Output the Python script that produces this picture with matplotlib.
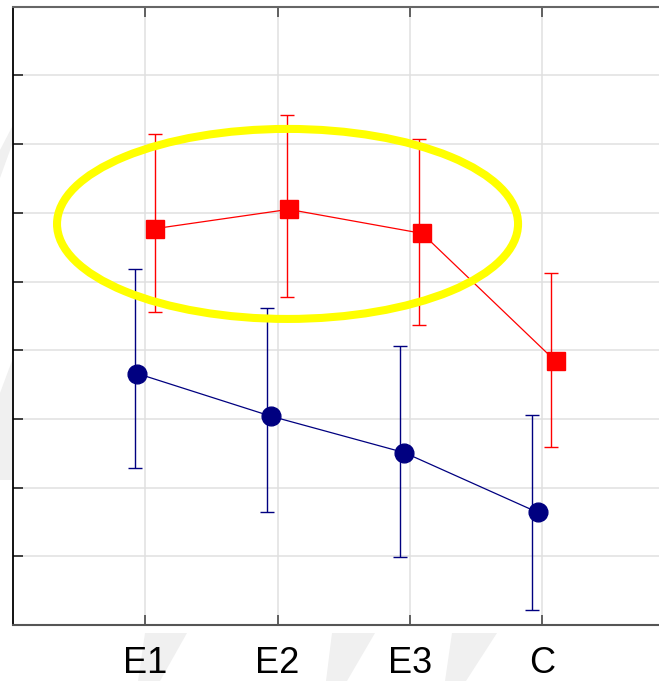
import matplotlib
matplotlib.use("Agg")
import matplotlib.pyplot as plt
from matplotlib.patches import Ellipse, Polygon

plt.rcParams['font.family'] = ['Liberation Sans', 'DejaVu Sans']

# categories
groups = ['E1', 'E2', 'E3', 'C']
xpos = [1, 2, 3, 4]

# blue series (circles): mean, lower and upper whisker
blue_mean = [3.66, 3.04, 2.51, 1.64]
blue_low = [2.28, 1.64, 0.99, 0.22]
blue_high = [5.18, 4.62, 4.06, 3.06]

# red series (squares)
red_mean = [5.77, 6.05, 5.70, 3.84]
red_low = [4.55, 4.78, 4.36, 2.59]
red_high = [7.14, 7.43, 7.08, 5.12]

W, H = 659, 681
fig = plt.figure(figsize=(W / 100, H / 100), dpi=100)

# light grey watermark shapes behind everything (pixel coords)
wm = [
    [(13, 125), (13, 142), (0, 178), (0, 150)],
    [(0, 393), (13, 358), (13, 480), (0, 480)],
    [(145, 633), (187, 633), (160, 681), (138, 681)],
    [(332, 633), (375, 633), (347, 681), (326, 681)],
    [(452, 633), (497, 633), (466, 681), (445, 681)],
]
for shp in wm:
    pts = [(px / W, 1 - py / H) for px, py in shp]
    fig.patches.append(Polygon(pts, closed=True, transform=fig.transFigure,
                               facecolor='#f0f0f0', edgecolor='none', zorder=-1))

ax = fig.add_axes([13.3 / W, 56 / H, 660.5 / W, 618.3 / H])
ax.set_zorder(1)
ax.set_facecolor('white')
ax.set_xlim(0, 5)
ax.set_ylim(0, 9)

ax.set_xticks(xpos)
ax.set_xticklabels(groups, fontsize=26)
ax.set_yticks(range(1, 9))
ax.set_yticklabels([])
ax.tick_params(axis='x', direction='in', length=7, width=1.3, color='#555555',
               top=True, pad=15)
ax.tick_params(axis='y', direction='in', length=7, width=1.3, color='#333333')
ax.grid(True, color='#e0e0e0', linewidth=1.1)
ax.set_axisbelow(True)

ax.spines['right'].set_visible(False)
ax.spines['left'].set_color('black')
ax.spines['left'].set_linewidth(1.3)
ax.spines['bottom'].set_color('#555555')
ax.spines['bottom'].set_linewidth(1.5)
ax.spines['top'].set_color('#666666')
ax.spines['top'].set_linewidth(1.5)

# error bars sit slightly left / right of the category, markers a bit off
blue_err_x = [x - 0.076 for x in xpos]
red_err_x = [x + 0.073 for x in xpos]
blue_mk_x = [x * 1.01 - 0.071 for x in xpos]
red_mk_x = [x * 1.01 + 0.065 for x in xpos]

ax.errorbar(blue_err_x, blue_mean,
            yerr=[[m - l for m, l in zip(blue_mean, blue_low)],
                  [h - m for m, h in zip(blue_mean, blue_high)]],
            fmt='none', ecolor='#000080', elinewidth=1.0, capsize=5, capthick=1.0,
            zorder=3)
ax.errorbar(red_err_x, red_mean,
            yerr=[[m - l for m, l in zip(red_mean, red_low)],
                  [h - m for m, h in zip(red_mean, red_high)]],
            fmt='none', ecolor='#ff0000', elinewidth=1.0, capsize=5, capthick=1.0,
            zorder=3)

ax.plot(blue_mk_x, blue_mean, color='#000080', linewidth=0.9, marker='o',
        markersize=13.5, markerfacecolor='#000080', markeredgecolor='#000080',
        zorder=4)
ax.plot(red_mk_x, red_mean, color='#ff0000', linewidth=0.9, marker='s',
        markersize=13, markerfacecolor='#ff0000', markeredgecolor='#ff0000',
        zorder=4)

# yellow highlight ellipse around the red E1-E3 points
ax.add_patch(Ellipse((2.076, 5.838), 3.49, 2.766, fill=False,
                     edgecolor='#ffff00', linewidth=5.8, zorder=5))

fig.savefig('out.png', dpi=100)
